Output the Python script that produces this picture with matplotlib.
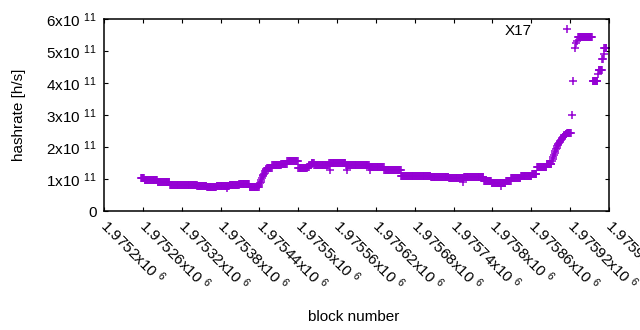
import numpy as np
import matplotlib
matplotlib.use('Agg')
import matplotlib.pyplot as plt

plt.rcParams['font.family'] = ['Liberation Sans', 'DejaVu Sans']
plt.rcParams['mathtext.fontset'] = 'custom'
plt.rcParams['mathtext.rm'] = 'Liberation Sans'
plt.rcParams['mathtext.it'] = 'Liberation Sans'

# hashrate, in units of 1e11 h/s, run-length encoded per block
first_block = 1975257
run_values = [1.02, 0.97, 0.91, 0.81, 0.77, 0.74, 0.77, 0.81, 0.83, 0.76,
              0.80, 0.86, 0.92, 0.98, 1.03, 1.08, 1.12, 1.16, 1.20, 1.24, 1.28, 1.31,
              1.34, 1.44, 1.47, 1.55, 1.33, 1.38, 1.45, 1.50, 1.44, 1.49, 1.45,
              1.37, 1.28, 1.10, 1.05, 1.02, 1.05, 0.95, 0.89, 0.87, 0.95, 1.02,
              1.09, 1.17, 1.37, 1.47,
              1.55, 1.62, 1.70, 1.76, 1.82, 1.88, 1.93, 1.98,
              2.03, 2.06, 2.09, 2.12, 2.15, 2.18, 2.21, 2.24,
              2.28, 2.30, 2.33, 2.36, 2.38, 2.40, 2.42, 2.44,
              np.nan, 3.01, np.nan, 4.05, np.nan, 5.08, np.nan, 5.24, np.nan, 5.30,
              5.43, 4.06, 4.27, 4.40, 4.75, 4.90, 5.08]
run_lengths = [6, 20, 19, 42, 15, 15, 20, 15, 16, 15,
               1, 1, 1, 1, 1, 1, 1, 1, 1, 1, 1, 1,
               8, 14, 9, 17, 14, 3, 4, 4, 23, 26, 36,
               23, 26, 46, 28, 23, 31, 12, 11, 11, 8, 15,
               17, 8, 15, 8,
               1, 1, 1, 1, 1, 1, 1, 1,
               1, 1, 1, 1, 1, 1, 1, 1,
               1, 1, 1, 1, 1, 1, 1, 7,
               1, 1, 1, 1, 1, 1, 1, 1, 1, 1,
               23, 8, 1, 6, 2, 1, 4]

# a few scattered points off the main band
stray_blocks = [1975390, 1975549, 1975575, 1975611, 1975755, 1975814]
stray_values = [0.71, 1.29, 1.28, 1.29, 0.92, 0.77]

xticks = [1975200 + 60 * i for i in range(14)]
yticks = [0, 1, 2, 3, 4, 5, 6]

hashrate = np.repeat(run_values, run_lengths) * 1e11
blocks = first_block + np.arange(len(hashrate))

fig = plt.figure(figsize=(6.4, 3.3), dpi=100)
ax = fig.add_axes([0.1625, 0.3606, 0.789, 0.5818])

purple = '#9400D3'
ax.plot(blocks, hashrate, linestyle='none', marker='+', ms=6.0, mew=1.1,
        color=purple, label='X17')
ax.plot(stray_blocks, np.array(stray_values) * 1e11, linestyle='none',
        marker='+', ms=6.0, mew=1.1, color=purple)

ax.set_xlim(1975200, 1975980)
ax.set_ylim(0, 6e11)

ax.set_xticks(xticks)
ax.set_xticklabels(['%gx10 $^{6}$' % (t / 1e6) for t in xticks],
                   rotation=-45, ha='left', va='center', rotation_mode='anchor')
ax.set_yticks([v * 1e11 for v in yticks])
ax.set_yticklabels(['0' if v == 0 else '%dx10 $^{11}$' % v for v in yticks])

ax.tick_params(direction='in', length=3.2, width=0.8, top=True, right=True,
               labelsize=11, colors='black')
ax.tick_params(axis='x', pad=8)
ax.tick_params(axis='y', pad=5)
for s in ax.spines.values():
    s.set_linewidth(1.1)

ax.set_ylabel('hashrate [h/s]', fontsize=11)
ax.set_xlabel('block number', fontsize=11)
ax.yaxis.set_label_coords(-0.154, 0.5)
ax.xaxis.set_label_coords(0.495, -0.516)

ax.legend(loc='upper right', bbox_to_anchor=(0.95, 0.975), frameon=False,
          markerfirst=False, handlelength=2.2, handletextpad=1.2,
          borderpad=0, borderaxespad=0, fontsize=11)

fig.savefig('out.png', dpi=100)
